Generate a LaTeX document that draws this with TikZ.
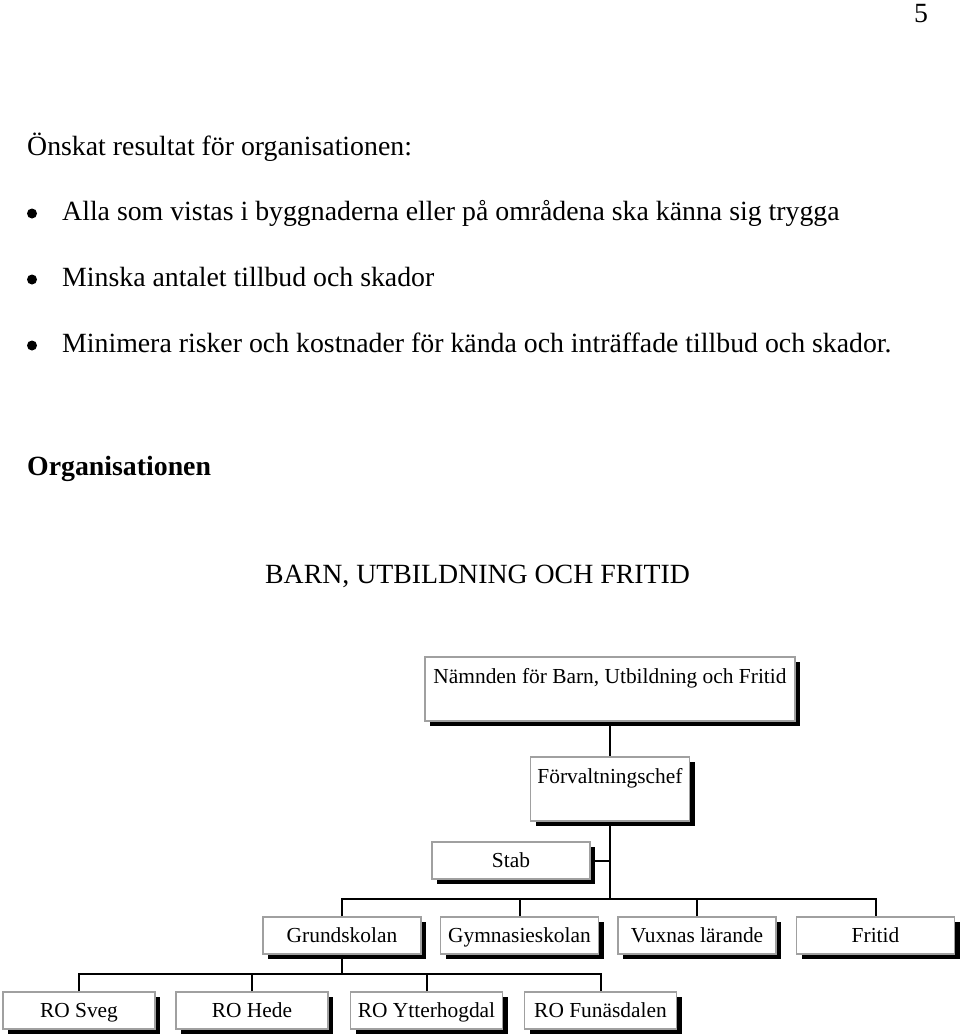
\documentclass[tikz,border=0pt]{standalone}
\usepackage{fontspec}
\setmainfont{Liberation Serif}
\usepackage{tikz}
\usetikzlibrary{positioning,shadows}
\usepackage{xcolor}
\definecolor{boxgray}{HTML}{A0A0A0}

\begin{document}
\begin{tikzpicture}[x=1pt, y=-1pt,
  bigtext/.style={font=\fontsize{27.8}{33}\selectfont, inner sep=0pt, anchor=base west},
  orgbox/.style={draw=boxgray, line width=1.5pt, fill=white, inner sep=0pt,
    font=\fontsize{21.4}{25}\selectfont, minimum height=37pt,
    text height=25pt, text depth=12pt,
    drop shadow={shadow xshift=5pt, shadow yshift=-5pt, fill=black, opacity=1}},
  tallbox/.style={orgbox, text height=26pt, text depth=38pt},
  link/.style={line width=2pt}]
  \useasboundingbox (0,0) rectangle (960,1036);
  % Page text
  \node[bigtext, anchor=base] (pagenum) at (921,22) {5};
  \node[bigtext] (goal) at (27,155) {Önskat resultat för organisationen:};
  \node[bigtext] (goal1) at (62,220) {Alla som vistas i byggnaderna eller på områdena ska känna sig trygga};
  \node[bigtext] (goal2) at (62,286) {Minska antalet tillbud och skador};
  \node[bigtext] (goal3) at (62,352) {Minimera risker och kostnader för kända och inträffade tillbud och skador.};
  \foreach \y in {213.5, 279.5, 345.5}
    \fill (32,\y) circle (5pt);
  \node[bigtext, font=\fontsize{27.8}{33}\selectfont\bfseries] (orghead) at (27,475) {Organisationen};
  \node[bigtext] (orgtitle) at (265,583) {BARN, UTBILDNING OCH FRITID};
  % Chart boxes
  \node[tallbox, minimum width=370pt] (namnd) at (610,689) {Nämnden för Barn, Utbildning och Fritid};
  \node[tallbox, minimum width=159pt] (chef) at (610,789) {Förvaltningschef};
  \node[orgbox, minimum width=158pt] (stab) at (511,860.5) {Stab};
  \node[orgbox, minimum width=158pt] (grund) at (342,935.5) {Grundskolan};
  \node[orgbox, minimum width=158pt] (gymn) at (519.5,935.5) {Gymnasieskolan};
  \node[orgbox, minimum width=158pt] (vuxen) at (697,935.5) {Vuxnas lärande};
  \node[orgbox, minimum width=158pt] (fritid) at (875.5,935.5) {Fritid};
  \node[orgbox, minimum width=152pt] (sveg) at (79,1010.5) {RO Sveg};
  \node[orgbox, minimum width=152pt] (hede) at (252,1010.5) {RO Hede};
  \node[orgbox, minimum width=152pt] (ytter) at (426.5,1010.5) {RO Ytterhogdal};
  \node[orgbox, minimum width=152pt] (funas) at (600.5,1010.5) {RO Funäsdalen};
  \coordinate (split) at (610,899);
  \coordinate (rosplit) at (342,974);
  % Connectors
  \draw[link] (namnd.south) -- (chef.north);
  \draw[link] (chef.south) -- (split);
  \draw[link] (stab.east) -- (stab.east -| split);
  \draw[link] (grund.north) |- (fritid.north |- split) -- (fritid.north);
  \foreach \n in {gymn, vuxen}
    \draw[link] (\n.north) -- (\n.north |- split);
  \draw[link] (grund.south) -- (rosplit);
  \draw[link] (sveg.north) |- (funas.north |- rosplit) -- (funas.north);
  \foreach \n in {hede, ytter}
    \draw[link] (\n.north) -- (\n.north |- rosplit);
\end{tikzpicture}
\end{document}
